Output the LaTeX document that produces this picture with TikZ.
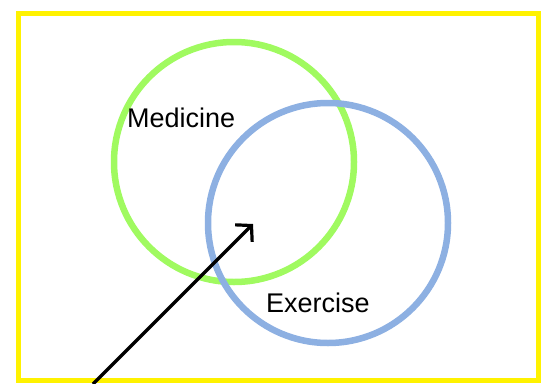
\documentclass[tikz,border=0pt]{standalone}
\usepackage{fontspec}
\setmainfont{Liberation Sans}
\usepackage{tikz}
\usetikzlibrary{arrows.meta}
\definecolor{medgreen}{RGB}{160,250,96}
\definecolor{exblue}{RGB}{141,176,226}

\begin{document}
\begin{tikzpicture} [x=1pt, y=-1pt]
\useasboundingbox (0,0) rectangle (546,383);
\draw[yellow, line width=5pt] (18,13) rectangle (538,380);
\node[draw=medgreen, circle, line width=6.5pt, minimum size=240pt, inner sep=0pt](med) at (234,162){};
\node[draw=exblue, circle, line width=6.5pt, minimum size=240pt, inner sep=0pt](ex) at (328,223){};
\node[anchor=base west, inner sep=0pt, font=\fontsize{27}{32}\selectfont](medtext) at (127,127){Medicine};
\node[anchor=base west, inner sep=0pt, font=\fontsize{27}{32}\selectfont](extext) at (266,312){Exercise};
\coordinate (s) at (93,384);
\coordinate (t) at (253,224);
\draw[line width=3.2pt, -{Straight Barb[length=11pt, width=24pt, line width=3.2pt]}] (s) -- (t);
\end{tikzpicture}
\end{document}
